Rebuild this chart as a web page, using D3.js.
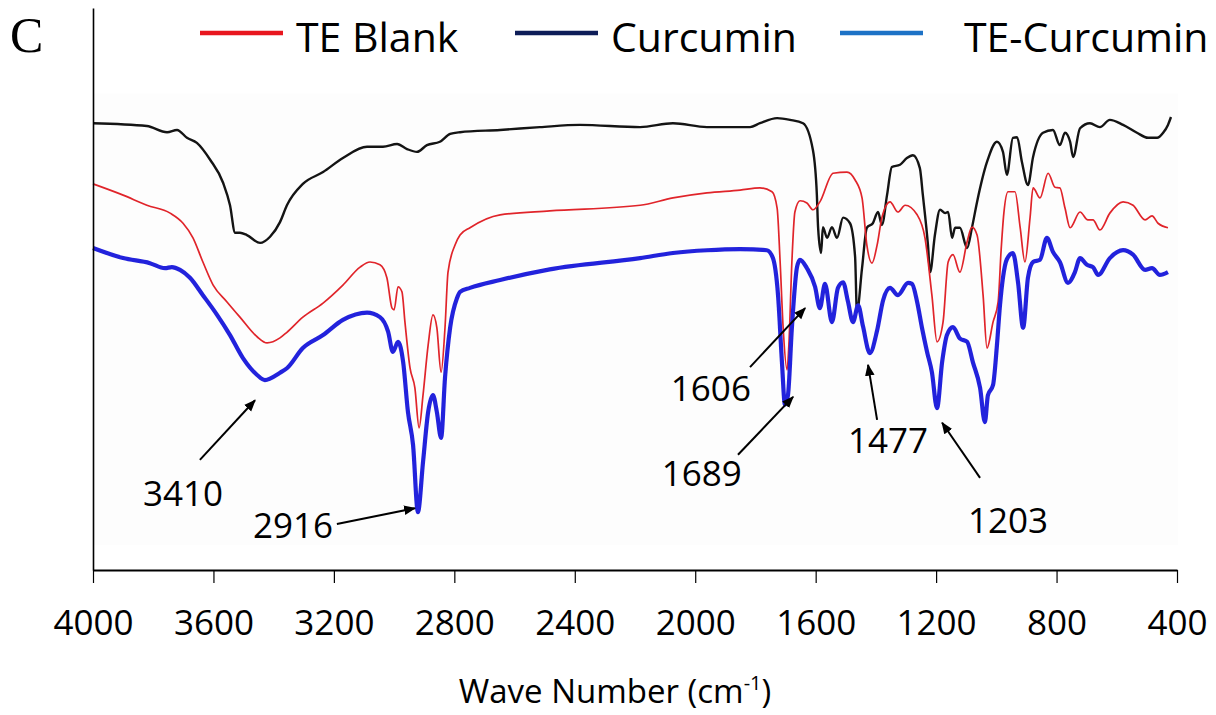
<!DOCTYPE html>
<html>
<head>
<meta charset="utf-8">
<script src="https://cdn.jsdelivr.net/npm/d3@7"></script>
<style>
  body { margin: 0; background: #fff; }
  svg { display: block; font-family: "Open Sans", sans-serif; }
</style>
</head>
<body>
<svg id="chart" width="1216" height="715"></svg>
<script>
// spectra: [wave number, transmittance (arbitrary %)]
var curcumin = [
  [4000,79.5],[3821,79.0],[3754,77.9],[3721,78.3],[3688,76.9],[3655,76.0],[3611,73.0],[3568,68.9],
  [3545,64.9],[3528,60.0],[3512,60.0],[3489,59.6],[3445,58.2],[3412,59.3],[3379,61.9],[3356,64.9],
  [3303,68.7],[3236,70.8],[3170,73.3],[3090,75.3],[3037,75.3],[2990,75.8],[2957,74.9],[2924,74.4],
  [2891,75.6],[2848,76.2],[2814,77.6],[2781,77.9],[2648,78.3],[2516,78.8],[2383,79.2],[2183,78.8],
  [2074,79.5],[1961,78.8],[1818,78.8],[1785,79.5],[1728,80.4],[1685,80.1],[1642,79.5],[1609,74.7],
  [1596,66.7],[1592,61.0],[1582,56.4],[1576,61.0],[1562,59.1],[1546,61.0],[1529,59.1],[1509,62.7],
  [1486,61.7],[1469,55.7],[1463,45.9],[1446,53.7],[1430,60.9],[1410,61.7],[1393,63.7],[1380,61.4],
  [1363,66.7],[1347,71.7],[1320,72.1],[1297,73.3],[1277,73.8],[1254,71.5],[1244,66.7],[1227,57.8],
  [1220,53.0],[1204,59.6],[1187,64.1],[1170,63.5],[1160,63.7],[1147,59.1],[1137,60.9],[1121,60.9],
  [1097,57.3],[1081,60.9],[1064,65.5],[1031,72.6],[998,76.2],[978,74.4],[965,70.3],[945,76.9],
  [931,77.0],[915,72.6],[895,68.5],[878,73.5],[845,77.8],[812,78.3],[789,75.6],[772,77.8],
  [755,76.2],[745,73.5],[722,78.6],[689,79.5],[656,78.8],[623,80.1],[579,79.2],[533,77.8],
  [496,76.9],[466,76.9],[446,77.8],[430,79.2],[420,80.6]
];
var teBlank = [
  [4000,68.7],[3900,66.7],[3821,64.9],[3744,63.5],[3701,61.7],[3668,59.1],[3635,54.8],[3601,50.7],
  [3555,47.7],[3512,45.0],[3455,41.5],[3422,40.4],[3379,41.3],[3356,42.3],[3303,45.0],[3236,47.5],
  [3170,50.7],[3113,53.9],[3080,54.8],[3047,54.3],[3024,52.0],[3007,46.6],[3000,46.3],[2987,50.4],
  [2974,49.5],[2964,44.1],[2947,35.9],[2931,32.4],[2917,25.3],[2904,31.1],[2887,40.0],[2871,45.4],
  [2858,43.1],[2844,35.2],[2831,43.1],[2821,53.0],[2798,57.8],[2781,59.6],[2748,60.9],[2648,63.2],
  [2483,63.9],[2183,64.9],[2074,66.2],[1961,67.1],[1851,67.6],[1785,68.0],[1745,67.3],[1728,64.4],
  [1718,54.8],[1708,43.1],[1695,35.6],[1689,40.0],[1679,54.8],[1669,63.7],[1652,65.7],[1629,65.3],
  [1609,64.1],[1586,65.5],[1542,70.6],[1496,70.8],[1469,69.4],[1446,66.2],[1430,57.8],[1413,54.6],
  [1396,57.8],[1380,62.7],[1353,65.5],[1327,63.7],[1303,64.9],[1263,63.2],[1237,59.1],[1214,48.9],
  [1197,40.6],[1177,44.1],[1160,54.8],[1144,56.1],[1121,53.0],[1097,58.4],[1081,61.0],[1064,59.6],
  [1044,48.9],[1031,39.5],[1011,44.1],[994,47.7],[984,57.0],[975,63.5],[961,67.3],[938,67.3],
  [921,61.0],[905,54.8],[888,62.7],[878,68.0],[855,66.2],[828,70.6],[805,68.1],[789,68.0],
  [772,64.4],[755,60.9],[722,63.7],[696,62.3],[679,62.3],[656,60.5],[623,63.5],[579,65.5],
  [546,64.9],[506,62.3],[483,63.0],[463,61.7],[430,60.9]
];
var teCurcumin = [
  [4000,57.3],[3900,55.5],[3811,54.6],[3761,53.7],[3738,53.9],[3711,53.4],[3678,52.0],[3635,48.9],
  [3588,45.4],[3545,41.8],[3502,37.7],[3455,34.7],[3429,33.8],[3379,35.1],[3356,35.9],[3303,39.5],
  [3236,41.8],[3170,44.5],[3090,45.8],[3047,45.0],[3020,42.4],[3004,38.8],[2987,40.6],[2970,37.0],
  [2954,28.1],[2937,22.2],[2921,10.3],[2904,19.2],[2887,28.1],[2871,31.1],[2858,28.1],[2844,23.5],
  [2831,34.2],[2814,43.1],[2791,48.4],[2781,49.5],[2748,50.2],[2648,51.6],[2483,53.5],[2183,55.5],
  [2074,56.4],[1961,56.9],[1851,57.1],[1762,56.9],[1742,55.5],[1725,48.9],[1712,37.0],[1702,29.4],
  [1692,31.1],[1679,43.1],[1662,53.9],[1652,55.2],[1629,53.7],[1602,50.4],[1586,46.6],[1569,50.9],
  [1546,44.1],[1526,50.2],[1509,51.2],[1493,47.8],[1476,44.1],[1459,47.1],[1443,43.4],[1420,38.6],
  [1396,42.6],[1376,48.0],[1353,50.2],[1327,48.9],[1293,51.1],[1280,50.9],[1263,47.7],[1247,43.1],
  [1230,38.8],[1214,35.2],[1197,28.8],[1180,37.0],[1164,41.8],[1144,43.2],[1121,41.2],[1097,40.6],
  [1078,37.0],[1054,32.4],[1038,26.3],[1028,31.1],[1011,32.9],[998,40.0],[988,47.0],[978,52.0],
  [965,55.3],[945,56.4],[928,51.2],[911,43.1],[895,52.0],[878,54.8],[855,55.2],[832,59.1],
  [812,56.6],[789,54.8],[762,51.1],[739,53.0],[722,55.5],[699,54.3],[679,53.9],[662,52.5],
  [623,55.5],[579,56.9],[546,56.1],[506,53.4],[483,53.7],[457,52.5],[430,53.0]
];

var xTicks = [4000, 3600, 3200, 2800, 2400, 2000, 1600, 1200, 800, 400];
var seriesNames = ["TE Blank", "Curcumin", "TE-Curcumin"];

// peak labels: text, where the text sits, arrow tail and head (wave number, transmittance)
var peakLabels = [
  {text: "3410", at: [3701, 13.7], from: [3645, 19.6], to: [3462, 30.2]},
  {text: "2916", at: [3336, 8.0],  from: [3190, 8.2],  to: [2931, 11.0]},
  {text: "1606", at: [1948, 32.4], from: [1818, 36.1], to: [1635, 46.6]},
  {text: "1689", at: [1978, 17.1], from: [1858, 20.5], to: [1675, 30.8]},
  {text: "1477", at: [1360, 23.1], from: [1396, 26.7], to: [1426, 36.5]},
  {text: "1203", at: [961, 8.9],   from: [1054, 16.4], to: [1180, 26.2]}
];

var svg = d3.select("#chart");

var x = d3.scaleLinear().domain([4000, 400]).range([93, 1177]);
var y = d3.scaleLinear().domain([0, 100]).range([570, 8]);

// faint backdrop of the scanned spectrum
svg.append("rect")
  .attr("x", x(4000) + 1).attr("y", y(84.8))
  .attr("width", x(400) - x(4000)).attr("height", y(4.4) - y(84.8))
  .attr("fill", "#fdfdfd");

var line = d3.line()
  .x(function(d) { return x(d[0]); })
  .y(function(d) { return y(d[1]); })
  .curve(d3.curveMonotoneX);

var defs = svg.append("defs");
defs.append("filter").attr("id", "soft")
  .append("feGaussianBlur").attr("stdDeviation", 0.7);
defs.append("marker")
  .attr("id", "arrow")
  .attr("viewBox", "0 0 10 10")
  .attr("refX", 9).attr("refY", 5)
  .attr("markerWidth", 6).attr("markerHeight", 6)
  .attr("orient", "auto")
  .append("path")
  .attr("d", "M0,1 L10,5 L0,9 Z")
  .attr("fill", "#000");

svg.append("path").datum(curcumin)
  .attr("d", line).attr("fill", "none")
  .attr("stroke", "#141414").attr("stroke-width", 2.4);
svg.append("path").datum(teBlank)
  .attr("d", line).attr("fill", "none")
  .attr("stroke", "#e0242a").attr("stroke-width", 1.7);
svg.append("path").datum(teCurcumin)
  .attr("d", line).attr("fill", "none")
  .attr("stroke", "#2424dc").attr("stroke-width", 4.2)
  .attr("filter", "url(#soft)");

// axes
var xAxis = d3.axisBottom(x)
  .tickValues(xTicks)
  .tickFormat(d3.format("d"))
  .tickSizeInner(13)
  .tickSizeOuter(0)
  .tickPadding(27);
var gx = svg.append("g")
  .attr("transform", "translate(0," + y(0) + ")")
  .call(xAxis);
gx.select(".domain").attr("stroke-width", 2.2);
gx.selectAll(".tick line").attr("stroke-width", 1.2);
gx.selectAll(".tick text")
  .attr("font-family", "'Open Sans', sans-serif")
  .attr("font-size", 35)
  .attr("fill", "#000");

var gy = svg.append("g")
  .attr("transform", "translate(" + x(4000) + ",0)")
  .call(d3.axisLeft(y).tickValues([]).tickSizeOuter(0));
gy.select(".domain").attr("stroke-width", 1.6);

var title = svg.append("text")
  .attr("x", 615).attr("y", 703)
  .attr("text-anchor", "middle")
  .attr("font-size", 33)
  .attr("fill", "#000");
title.append("tspan").text("Wave Number (cm");
title.append("tspan").attr("font-size", 20).attr("dy", -13).text("-1");
title.append("tspan").attr("dy", 13).text(")");

// peak annotations
var ann = svg.append("g");
ann.selectAll("line").data(peakLabels).enter().append("line")
  .attr("x1", function(d) { return x(d.from[0]); })
  .attr("y1", function(d) { return y(d.from[1]); })
  .attr("x2", function(d) { return x(d.to[0]); })
  .attr("y2", function(d) { return y(d.to[1]); })
  .attr("stroke", "#000").attr("stroke-width", 2)
  .attr("marker-end", "url(#arrow)");
ann.selectAll("text").data(peakLabels).enter().append("text")
  .attr("x", function(d) { return x(d.at[0]); })
  .attr("y", function(d) { return y(d.at[1]); })
  .attr("dy", "0.36em")
  .attr("text-anchor", "middle")
  .attr("font-size", 35)
  .attr("fill", "#000")
  .text(function(d) { return d.text; });

// panel letter
svg.append("text")
  .attr("x", 10).attr("y", 52)
  .attr("font-family", "'Liberation Serif', serif")
  .attr("font-size", 50)
  .text("C");

// legend
var legendColors = ["#e8161e", "#0e1d58", "#1d72c6"];
var legendX = [200, 515, 840];
var lg = svg.append("g").selectAll("g").data(seriesNames).enter().append("g")
  .attr("transform", function(d, i) { return "translate(" + legendX[i] + ",33)"; });
lg.append("line")
  .attr("x1", 0).attr("x2", 83)
  .attr("stroke", function(d, i) { return legendColors[i]; })
  .attr("stroke-width", 4.5);
lg.append("text")
  .attr("x", function(d, i) { return i == 2 ? 124 : 96; })
  .attr("y", 19)
  .attr("font-size", 41)
  .attr("fill", "#000")
  .text(function(d) { return d; });
</script>
</body>
</html>
